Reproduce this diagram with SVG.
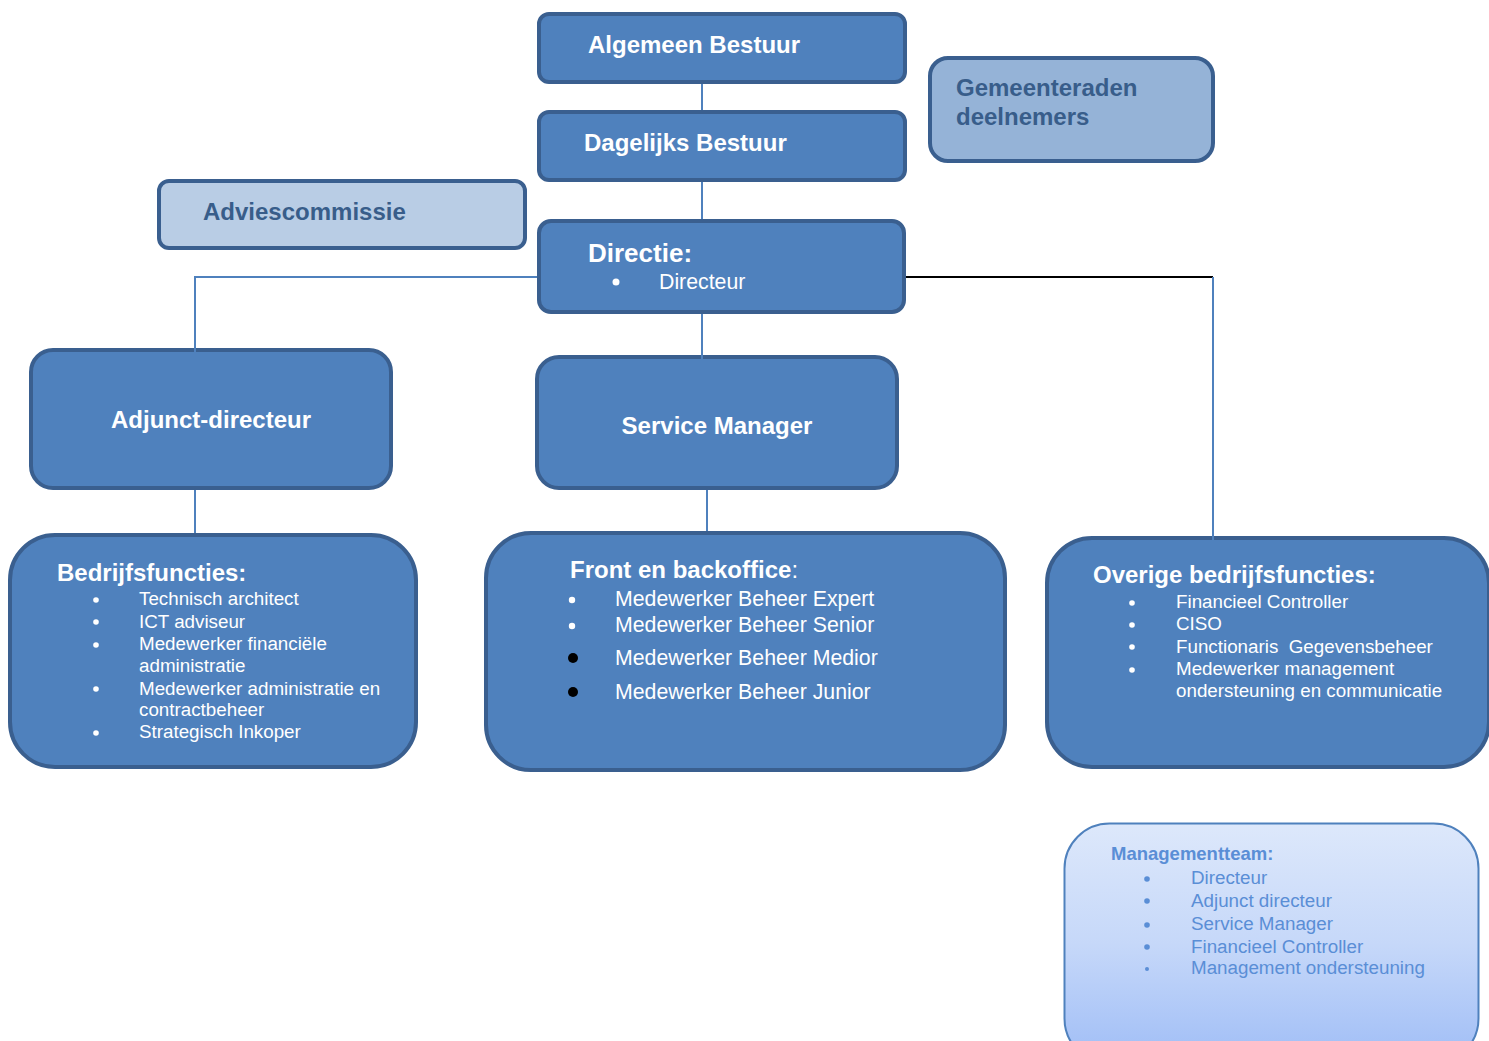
<svg xmlns="http://www.w3.org/2000/svg" width="1489" height="1041" viewBox="0 0 1489 1041">
<defs>
<linearGradient id="mt" x1="0" y1="0" x2="0" y2="1">
<stop offset="0" stop-color="#dde8fb"/>
<stop offset="0.5" stop-color="#c6d8f9"/>
<stop offset="1" stop-color="#9fbdf6"/>
</linearGradient>
<style>
.box{fill:#4f81bd;stroke:#3a5f8f;stroke-width:4}
.t{font-family:"Liberation Sans",Arial,sans-serif;fill:#fff}
.b{font-weight:bold}
.dk{fill:#385d8a}
.it{font-size:18.8px}
.con{stroke:#4f81bd;stroke-width:2;fill:none}
.mtx{font-family:"Liberation Sans",Arial,sans-serif;fill:#5a8ed6}
</style>
</defs>
<rect width="1489" height="1041" fill="#fff"/>

<g id="algemeen-bestuur">
<rect class="box" x="539" y="14" width="366" height="68" rx="10"/>
<text class="t b" x="588" y="53" font-size="24">Algemeen Bestuur</text>
</g>
<g id="dagelijks-bestuur">
<rect class="box" x="539" y="112" width="366" height="68" rx="10"/>
<text class="t b" x="584" y="151" font-size="24">Dagelijks Bestuur</text>
</g>
<g id="gemeenteraden">
<rect class="box" style="fill:#95b3d7" x="930" y="58" width="283" height="103" rx="18"/>
<text class="t b dk" x="956" y="96" font-size="24">Gemeenteraden</text>
<text class="t b dk" x="956" y="125" font-size="24">deelnemers</text>
</g>
<g id="adviescommissie">
<rect class="box" style="fill:#b9cde5" x="159" y="181" width="366" height="67" rx="10"/>
<text class="t b dk" x="203" y="220" font-size="24">Adviescommissie</text>
</g>
<g id="directie">
<rect class="box" x="539" y="221" width="365" height="91" rx="12"/>
<text class="t b" x="588" y="262" font-size="26">Directie:</text>
<circle cx="616" cy="282" r="3.5" fill="#fff"/>
<text class="t" x="659" y="289" font-size="21.3">Directeur</text>
</g>
<g id="adjunct-directeur">
<rect class="box" x="31" y="350" width="360" height="138" rx="22"/>
<text class="t b" x="211" y="428" font-size="24" text-anchor="middle">Adjunct-directeur</text>
</g>
<g id="service-manager">
<rect class="box" x="537" y="357" width="360" height="131" rx="22"/>
<text class="t b" x="717" y="434" font-size="24" text-anchor="middle">Service Manager</text>
</g>
<g id="bedrijfsfuncties">
<rect class="box" x="10" y="535" width="406" height="232" rx="45"/>
<text class="t b" x="57" y="581" font-size="24">Bedrijfsfuncties:</text>
<g fill="#fff">
<circle cx="96" cy="600" r="2.8"/><circle cx="96" cy="622" r="2.8"/><circle cx="96" cy="645" r="2.8"/><circle cx="96" cy="689" r="2.8"/><circle cx="96" cy="733" r="2.8"/>
</g>
<text class="t it" x="139" y="605">Technisch architect</text>
<text class="t it" x="139" y="628">ICT adviseur</text>
<text class="t it" x="139" y="650">Medewerker financiële</text>
<text class="t it" x="139" y="672">administratie</text>
<text class="t it" x="139" y="695">Medewerker administratie en</text>
<text class="t it" x="139" y="716">contractbeheer</text>
<text class="t it" x="139" y="738">Strategisch Inkoper</text>
</g>
<g id="front-backoffice">
<rect class="box" x="486" y="533" width="519" height="237" rx="45"/>
<text class="t" x="570" y="578" font-size="24"><tspan font-weight="bold">Front en backoffice</tspan>:</text>
<circle cx="572" cy="600" r="3.2" fill="#fff"/>
<circle cx="572" cy="626" r="3.2" fill="#fff"/>
<circle cx="573" cy="658" r="5" fill="#000"/>
<circle cx="573" cy="692" r="5" fill="#000"/>
<text class="t" x="615" y="606" font-size="21.3">Medewerker Beheer Expert</text>
<text class="t" x="615" y="632" font-size="21.3">Medewerker Beheer Senior</text>
<text class="t" x="615" y="665" font-size="21.3">Medewerker Beheer Medior</text>
<text class="t" x="615" y="699" font-size="21.3">Medewerker Beheer Junior</text>
</g>
<g id="overige-bedrijfsfuncties">
<rect class="box" x="1047" y="538" width="442" height="229" rx="45"/>
<text class="t b" x="1093" y="583" font-size="24">Overige bedrijfsfuncties:</text>
<g fill="#fff">
<circle cx="1132" cy="603" r="2.8"/><circle cx="1132" cy="625" r="2.8"/><circle cx="1132" cy="647" r="2.8"/><circle cx="1132" cy="670" r="2.8"/>
</g>
<text class="t it" x="1176" y="608">Financieel Controller</text>
<text class="t it" x="1176" y="630">CISO</text>
<text class="t it" x="1176" y="653">Functionaris&#160; Gegevensbeheer</text>
<text class="t it" x="1176" y="675">Medewerker management</text>
<text class="t it" x="1176" y="697">ondersteuning en communicatie</text>
</g>
<g id="managementteam">
<rect x="1064.5" y="823.5" width="414" height="240" rx="45" fill="url(#mt)" stroke="#4f81bd" stroke-width="2"/>
<text class="mtx b" x="1111" y="860" font-size="18.5">Managementteam:</text>
<g fill="#5a8ed6">
<circle cx="1147" cy="879" r="2.8"/><circle cx="1147" cy="901" r="2.8"/><circle cx="1147" cy="925" r="2.8"/><circle cx="1147" cy="947" r="2.8"/><circle cx="1147" cy="969" r="2"/>
</g>
<text class="mtx it" x="1191" y="884">Directeur</text>
<text class="mtx it" x="1191" y="907">Adjunct directeur</text>
<text class="mtx it" x="1191" y="930">Service Manager</text>
<text class="mtx it" x="1191" y="953">Financieel Controller</text>
<text class="mtx it" x="1191" y="974">Management ondersteuning</text>
</g>

<g id="connectors">
<line class="con" x1="702" y1="84" x2="702" y2="110"/>
<line class="con" x1="702" y1="182" x2="702" y2="219"/>
<line class="con" x1="702" y1="314" x2="702" y2="375"/>
<polyline class="con" points="537,277 195,277 195,368"/>
<line class="con" x1="195" y1="490" x2="195" y2="533"/>
<line class="con" x1="707" y1="490" x2="707" y2="531"/>
<line x1="906" y1="277" x2="1213" y2="277" stroke="#000" stroke-width="2"/>
<line class="con" x1="1213" y1="277" x2="1213" y2="548"/>
</g>
</svg>
